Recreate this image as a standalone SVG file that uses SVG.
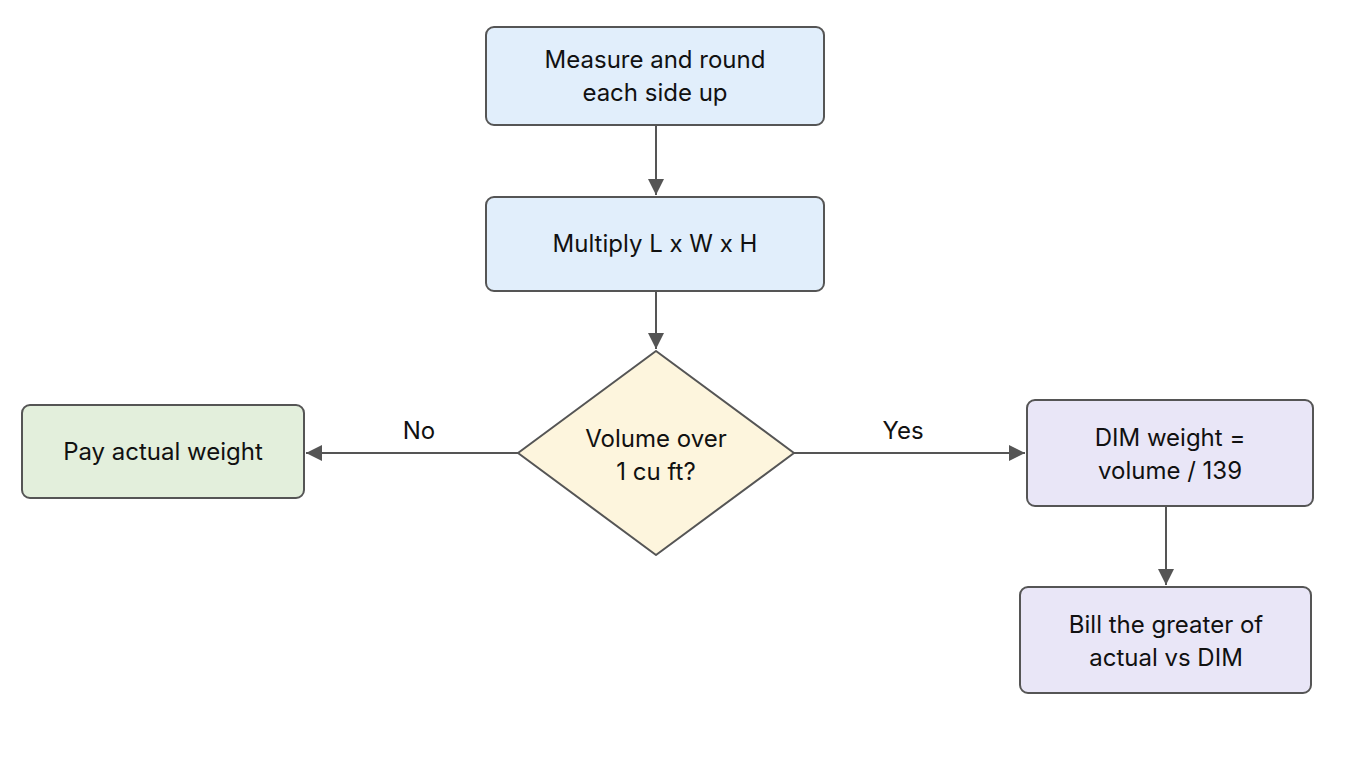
<svg xmlns="http://www.w3.org/2000/svg" width="1360" height="768" viewBox="0 0 1360 768">
<style>
.n{stroke:#555;stroke-width:2}
.t{font-family:Inter,"Liberation Sans",sans-serif;font-size:24px;fill:#111;text-anchor:middle}
.c{stroke:#555;stroke-width:2;fill:none;marker-end:url(#a)}
</style>
<defs><marker id="a" viewBox="0 0 10 10" refX="10" refY="5" markerWidth="8" markerHeight="8" markerUnits="userSpaceOnUse" orient="auto"><path d="M0,0L10,5L0,10z" fill="#555"/></marker>
<marker id="b" viewBox="0 0 10 10" refX="10" refY="5" markerWidth="16" markerHeight="16" markerUnits="userSpaceOnUse" orient="auto"><path d="M0,0L10,5L0,10z" fill="#555"/></marker></defs>
<rect width="1360" height="768" fill="#fff"/>
<g id="connectors">
<path class="c" style="marker-end:url(#b)" d="M656,125V195"/>
<path class="c" style="marker-end:url(#b)" d="M656,291V349"/>
<path class="c" style="marker-end:url(#b)" d="M518,453H306"/>
<path class="c" style="marker-end:url(#b)" d="M794,453H1025"/>
<path class="c" style="marker-end:url(#b)" d="M1166,506V585"/>
<text class="t" x="419" y="439">No</text>
<text class="t" x="903" y="439">Yes</text>
</g>
<g id="measure"><rect class="n" x="486" y="27" width="338" height="98" rx="8" fill="#e1eefb"/><text class="t" x="655" y="68">Measure and round</text><text class="t" x="655" y="101">each side up</text></g>
<g id="multiply"><rect class="n" x="486" y="197" width="338" height="94" rx="8" fill="#e1eefb"/><text class="t" x="655" y="252">Multiply L x W x H</text></g>
<g id="decision"><path class="n" d="M656,351L794,453L656,555L518,453Z" fill="#fdf5dd" stroke-linejoin="round"/><text class="t" x="656" y="447">Volume over</text><text class="t" x="656" y="480">1 cu ft?</text></g>
<g id="actual"><rect class="n" x="22" y="405" width="282" height="93" rx="8" fill="#e3efdc"/><text class="t" x="163" y="460">Pay actual weight</text></g>
<g id="dim"><rect class="n" x="1027" y="400" width="286" height="106" rx="8" fill="#e9e6f7"/><text class="t" x="1170" y="446">DIM weight =</text><text class="t" x="1170" y="479">volume / 139</text></g>
<g id="bill"><rect class="n" x="1020" y="587" width="291" height="106" rx="8" fill="#e9e6f7"/><text class="t" x="1166" y="633">Bill the greater of</text><text class="t" x="1166" y="666">actual vs DIM</text></g>
</svg>
